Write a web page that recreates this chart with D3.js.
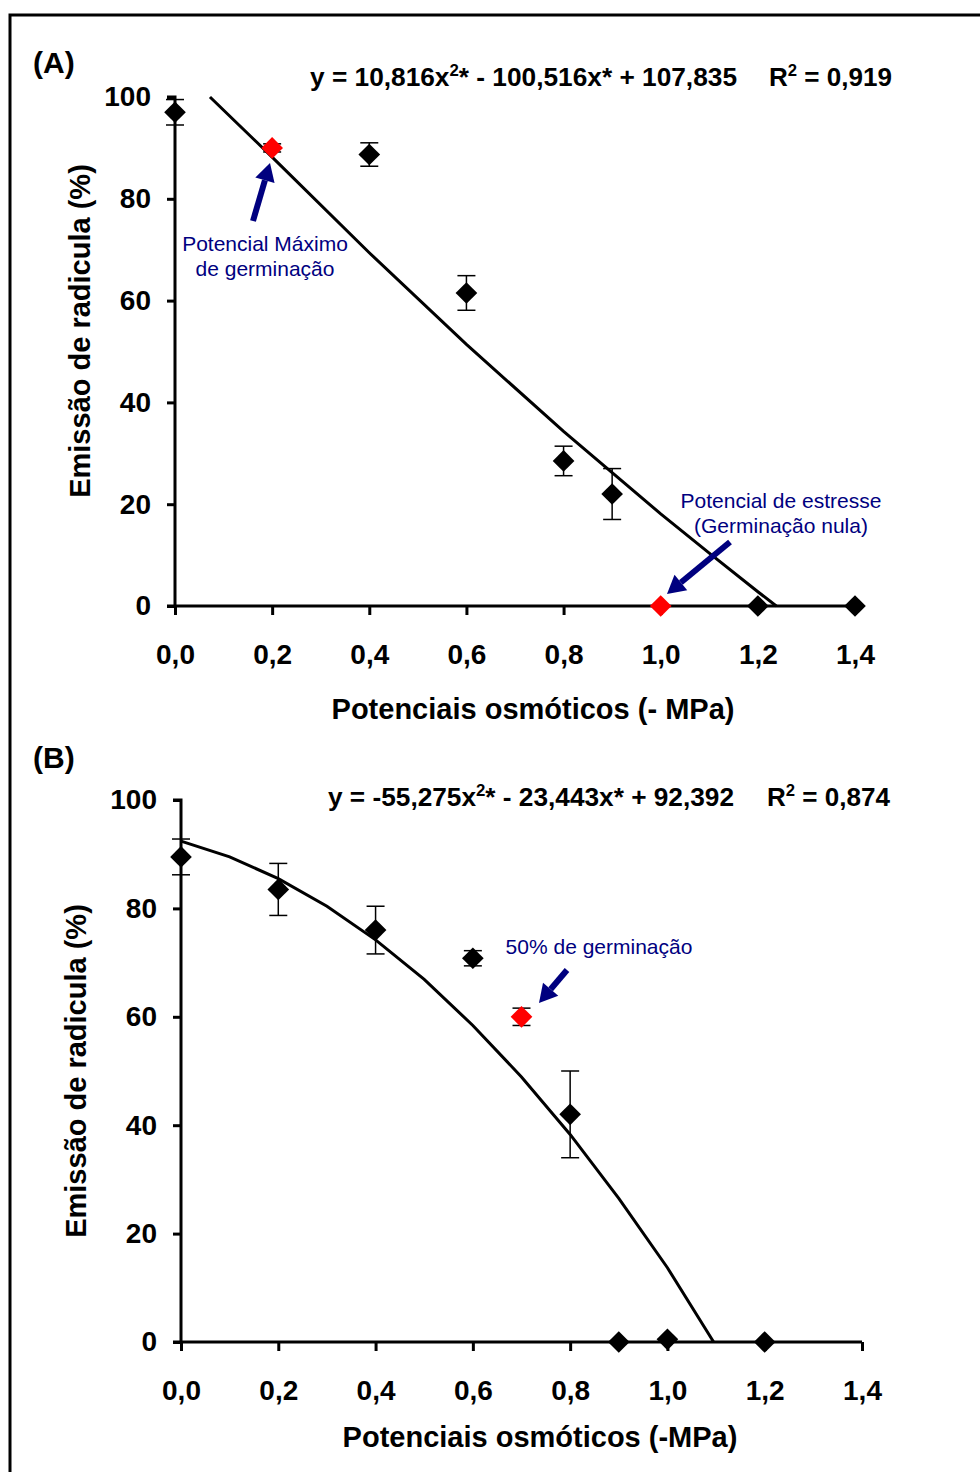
<!DOCTYPE html>
<html>
<head>
<meta charset="utf-8">
<script src="https://cdn.jsdelivr.net/npm/d3@7"></script>
<style>
body { margin: 0; background: #fff; }
svg text { font-family: "Liberation Sans", Arial, sans-serif; }
</style>
</head>
<body>
<div id="chart"></div>
<script>
// panel A data
var xA = [0, 0.2, 0.4, 0.6, 0.8, 0.9, 1.0, 1.2, 1.4]
var yA = [97, 90, 88.7, 61.5, 28.5, 22, 0, 0, 0]
var errA = [2.5, 0.8, 2.3, 3.4, 2.9, 5, 0, 0, 0]
var redA = [false, true, false, false, false, false, true, false, false]
var trendXA = [0.072, 0.2, 0.4, 0.6, 0.8, 1.0, 1.1, 1.2, 1.238]
var trendYA = [100, 88.2, 69.4, 51.4, 34.3, 18.1, 10.4, 2.8, 0]

// panel B data
var xB = [0, 0.2, 0.4, 0.6, 0.7, 0.8, 0.9, 1.0, 1.2]
var yB = [89.5, 83.5, 76, 70.8, 60, 42, 0, 0.5, 0]
var errB = [3.3, 4.8, 4.4, 1.4, 1.6, 8, 0, 0, 0]
var redB = [false, false, false, false, true, false, false, false, false]
var trendXB = [0, 0.1, 0.2, 0.3, 0.4, 0.5, 0.6, 0.7, 0.8, 0.9, 1.0, 1.095]
var trendYB = [92.4, 89.5, 85.5, 80.4, 74.2, 66.9, 58.4, 48.9, 38.3, 26.5, 13.7, 0]

var xTicks = [0, 0.2, 0.4, 0.6, 0.8, 1.0, 1.2, 1.4]
var yTicks = [0, 20, 40, 60, 80, 100]

var svg = d3.select("#chart").append("svg")
    .attr("width", 980)
    .attr("height", 1472)

// frame
svg.append("rect")
    .attr("x", 10).attr("y", 15)
    .attr("width", 1000).attr("height", 1500)
    .attr("fill", "none")
    .attr("stroke", "#000")
    .attr("stroke-width", 3)

var navy = "#00007f"
var fmt = function(d){ return d3.format(".1f")(d).replace(".", ",") }

function panel(p) {
    var x = d3.scaleLinear().domain([0, 1.4]).range(p.xr)
    var y = d3.scaleLinear().domain([0, 100]).range(p.yr)
    var g = svg.append("g")

    // y axis
    var ya = g.append("g")
        .attr("transform", "translate(" + p.xr[0] + ",0)")
        .call(d3.axisLeft(y).tickValues(yTicks).tickSize(8).tickPadding(16))
    ya.select(".domain").attr("stroke-width", 3).attr("d", "M0," + p.yr[0] + "V" + p.yr[1] + "H-8")
    ya.selectAll(".tick line").attr("stroke-width", 3)
    ya.selectAll("text").attr("font-size", 28).attr("font-weight", "bold").attr("fill", "#000")
        .attr("font-family", "Liberation Sans, Arial, sans-serif")

    // x axis
    var xa = g.append("g")
        .attr("transform", "translate(0," + p.yr[0] + ")")
        .call(d3.axisBottom(x).tickValues(xTicks).tickFormat(fmt).tickSize(9).tickPadding(29))
    xa.select(".domain").attr("stroke-width", 3).attr("d", "M" + (p.xr[0] - 8) + ",0H" + p.xr[1])
    xa.selectAll(".tick line").attr("stroke-width", 3)
    xa.selectAll("text").attr("font-size", 28).attr("font-weight", "bold").attr("fill", "#000")
        .attr("font-family", "Liberation Sans, Arial, sans-serif")

    // trend line
    var line = d3.line().x(function(d){ return x(d[0]) }).y(function(d){ return y(d[1]) })
    g.append("path")
        .datum(d3.zip(p.tx, p.ty))
        .attr("d", line)
        .attr("fill", "none")
        .attr("stroke", "#000")
        .attr("stroke-width", 3)

    var pts = p.xs.map(function(v, i){ return {x: v, y: p.ys[i], e: p.es[i], red: p.red[i]} })

    // error bars
    var eb = g.selectAll(".eb").data(pts.filter(function(d){ return d.e > 0 })).enter().append("g")
    eb.append("line")
        .attr("x1", function(d){ return x(d.x) }).attr("x2", function(d){ return x(d.x) })
        .attr("y1", function(d){ return y(d.y + d.e) }).attr("y2", function(d){ return y(d.y - d.e) })
        .attr("stroke", "#000").attr("stroke-width", 1.5)
    ;[1, -1].forEach(function(s){
        eb.append("line")
            .attr("x1", function(d){ return x(d.x) - 9 }).attr("x2", function(d){ return x(d.x) + 9 })
            .attr("y1", function(d){ return y(d.y + s * d.e) }).attr("y2", function(d){ return y(d.y + s * d.e) })
            .attr("stroke", "#000").attr("stroke-width", 1.5)
    })

    // diamonds
    g.selectAll(".pt").data(pts).enter().append("path")
        .attr("d", d3.symbol().type(d3.symbolSquare).size(235))
        .attr("transform", function(d){ return "translate(" + x(d.x) + "," + y(d.y) + ") rotate(45)" })
        .attr("fill", function(d){ return d.red ? "#ff0000" : "#000" })

    // panel label
    g.append("text").attr("x", 33).attr("y", p.labY)
        .attr("font-size", 30).attr("font-weight", "bold").text(p.label)

    // equation
    var eq = g.append("text").attr("x", p.eqX).attr("y", p.eqY)
        .attr("font-size", 25).attr("font-weight", "bold")
        .attr("textLength", p.eqW).attr("lengthAdjust", "spacingAndGlyphs")
    eq.append("tspan").text(p.eq[0])
    eq.append("tspan").attr("dy", -10).attr("font-size", 16).text("2")
    eq.append("tspan").attr("dy", 10).text(p.eq[1])
    var r2 = g.append("text").attr("x", p.rX).attr("y", p.eqY)
        .attr("font-size", 25).attr("font-weight", "bold")
        .attr("textLength", 123).attr("lengthAdjust", "spacingAndGlyphs")
    r2.append("tspan").text("R")
    r2.append("tspan").attr("dy", -10).attr("font-size", 16).text("2")
    r2.append("tspan").attr("dy", 10).text(p.eq[2])

    // axis titles
    g.append("text")
        .attr("transform", "translate(" + p.ytX + "," + p.ytY + ") rotate(-90)")
        .attr("text-anchor", "middle").attr("font-size", 29).attr("font-weight", "bold")
        .text("Emissão de radicula (%)")
    g.append("text").attr("x", p.xtX).attr("y", p.xtY)
        .attr("text-anchor", "middle").attr("font-size", 29).attr("font-weight", "bold")
        .text(p.xTitle)

    // notes
    p.notes.forEach(function(n){
        var t = g.append("text").attr("x", n.x).attr("y", n.y)
            .attr("text-anchor", "middle").attr("font-size", 21).attr("fill", navy)
        n.lines.forEach(function(l, i){
            t.append("tspan").attr("x", n.x).attr("dy", i ? 25 : 0).text(l)
        })
        arrow(g, n.a[0], n.a[1], n.a[2], n.a[3])
    })
}

function arrow(g, x1, y1, x2, y2) {
    var dx = x2 - x1, dy = y2 - y1, L = Math.sqrt(dx*dx + dy*dy)
    var ux = dx / L, uy = dy / L
    var hl = 18, hw = 10
    var bx = x2 - ux * hl, by = y2 - uy * hl
    g.append("line").attr("x1", x1).attr("y1", y1).attr("x2", bx).attr("y2", by)
        .attr("stroke", navy).attr("stroke-width", 6)
    g.append("path")
        .attr("d", "M" + x2 + "," + y2 + "L" + (bx - uy*hw) + "," + (by + ux*hw) + "L" + (bx + uy*hw) + "," + (by - ux*hw) + "Z")
        .attr("fill", navy)
}

panel({
    xr: [175, 855], yr: [606, 97],
    xs: xA, ys: yA, es: errA, red: redA, tx: trendXA, ty: trendYA,
    label: "(A)", labY: 73,
    eq: ["y = 10,816x", "* - 100,516x* + 107,835", " = 0,919"], eqX: 310, eqY: 86, eqW: 427, rX: 769,
    ytX: 90, ytY: 331, xtX: 533, xtY: 719,
    xTitle: "Potenciais osmóticos (- MPa)",
    notes: [
        {x: 265, y: 251, lines: ["Potencial Máximo", "de germinação"], a: [253, 221, 270, 163]},
        {x: 781, y: 508, lines: ["Potencial de estresse", "(Germinação nula)"], a: [730, 542, 667, 594]}
    ]
})

panel({
    xr: [181, 862], yr: [1342, 800],
    xs: xB, ys: yB, es: errB, red: redB, tx: trendXB, ty: trendYB,
    label: "(B)", labY: 768,
    eq: ["y = -55,275x", "* - 23,443x* + 92,392", " = 0,874"], eqX: 328, eqY: 806, eqW: 406, rX: 767,
    ytX: 86, ytY: 1071, xtX: 540, xtY: 1447,
    xTitle: "Potenciais osmóticos (-MPa)",
    notes: [
        {x: 599, y: 954, lines: ["50% de germinação"], a: [567, 970, 539, 1003]}
    ]
})
</script>
</body>
</html>
